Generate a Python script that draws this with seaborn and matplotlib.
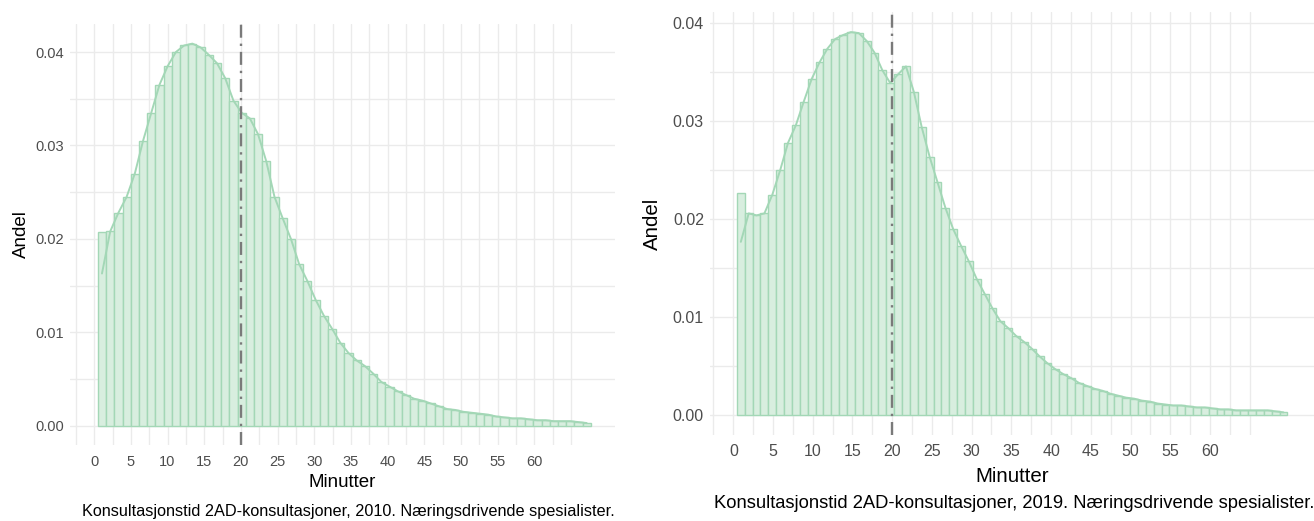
import matplotlib.pyplot as plt
import numpy as np
import pandas as pd
import seaborn as sns

# share of consultations per bin (Andel)
andel_2010 = [
    0.0207, 0.0208, 0.0228, 0.0245, 0.0270, 0.0305, 0.0335, 0.0365, 0.0385, 0.0400,
    0.0407, 0.0409, 0.0405, 0.0397, 0.0388, 0.0372, 0.0348, 0.0335, 0.0329, 0.0312,
    0.0283, 0.0245, 0.0222, 0.0200, 0.0173, 0.0155, 0.0135, 0.0118, 0.0104, 0.0089,
    0.0078, 0.0070, 0.0064, 0.0056, 0.0047, 0.0042, 0.0037, 0.0033, 0.0029, 0.0027,
    0.0024, 0.0021, 0.0018, 0.0017, 0.0015, 0.0014, 0.0013, 0.0012, 0.0010, 0.0009,
    0.0008, 0.0008, 0.0007, 0.0006, 0.0006, 0.0005, 0.0005, 0.0005, 0.0004, 0.0003,
]
andel_2019 = [
    0.0227, 0.0206, 0.0204, 0.0206, 0.0225, 0.0250, 0.0278, 0.0296, 0.0320, 0.0343,
    0.0360, 0.0374, 0.0384, 0.0388, 0.0391, 0.0390, 0.0382, 0.0370, 0.0352, 0.0339,
    0.0348, 0.0356, 0.0330, 0.0294, 0.0264, 0.0238, 0.0212, 0.0190, 0.0173, 0.0157,
    0.0139, 0.0124, 0.0109, 0.0096, 0.0089, 0.0081, 0.0075, 0.0068, 0.0060, 0.0053,
    0.0047, 0.0042, 0.0038, 0.0033, 0.0030, 0.0027, 0.0025, 0.0022, 0.0020, 0.0018,
    0.0017, 0.0015, 0.0014, 0.0012, 0.0011, 0.0010, 0.0010, 0.0009, 0.0008, 0.0008,
    0.0007, 0.0006, 0.0006, 0.0005, 0.0005, 0.0005, 0.0005, 0.0005, 0.0004, 0.0003,
]
# the density curve starts lower than the first bar
kurve_start_2010 = 0.0163
kurve_start_2019 = 0.0177

# bin layout (minutes)
bin_start_2010, bin_width_2010 = 0.5, 1.12
bin_start_2019, bin_width_2019 = 0.45, 0.99

x_ticks = list(range(0, 61, 5))
y_ticks = [0.00, 0.01, 0.02, 0.03, 0.04]
grense = 20

caption_2010 = "Konsultasjonstid 2AD-konsultasjoner, 2010. Næringsdrivende spesialister."
caption_2019 = "Konsultasjonstid 2AD-konsultasjoner, 2019. Næringsdrivende spesialister."

FILL = "#d8eedf"
EDGE = "#a3d7b6"
GRID = "#ebebeb"

sns.set_theme(style="white")
plt.rcParams["font.family"] = ["Liberation Sans", "DejaVu Sans"]


def panel(ax, andel, kurve_start, start, width, caption, xlim, ylim, fs, xpad, ypad, cap_off):
    n = len(andel)
    edges = start + width * np.arange(n + 1)
    df = pd.DataFrame({"minutt": (edges[:-1] + edges[1:]) / 2, "andel": andel})

    sns.histplot(
        data=df,
        x="minutt",
        weights="andel",
        bins=edges.tolist(),
        color=FILL,
        edgecolor=EDGE,
        linewidth=1.0,
        alpha=1.0,
        ax=ax,
    )
    df["kurve"] = [kurve_start] + list(andel[1:])
    sns.lineplot(data=df, x="minutt", y="kurve", color=EDGE, linewidth=1.4, ax=ax)
    ax.axvline(grense, color="#7a7a7a", linewidth=1.7, dashes=(5.5, 2.5, 1, 2.5))

    ax.set_xlim(*xlim)
    ax.set_ylim(*ylim)
    ax.set_xticks(x_ticks)
    ax.set_xticks(np.arange(-2.5, 66, 2.5), minor=True)
    ax.set_yticks(y_ticks)
    ax.set_yticks([0.005, 0.015, 0.025, 0.035], minor=True)
    ax.set_yticklabels([f"{v:.2f}" for v in y_ticks])
    ax.grid(True, which="both", color=GRID, linewidth=1.0)
    ax.set_axisbelow(True)
    for s in ax.spines.values():
        s.set_visible(False)
    ax.tick_params(which="both", length=0, labelsize=fs[0], labelcolor="#4d4d4d")
    ax.tick_params(axis="x", pad=7)
    ax.tick_params(axis="y", pad=4)
    ax.set_xlabel("Minutter", fontsize=fs[1], color="black", labelpad=xpad)
    ax.set_ylabel("Andel", fontsize=fs[1], color="black", labelpad=ypad)
    ax.annotate(
        caption,
        xy=(1, 0),
        xycoords="axes fraction",
        xytext=(0, cap_off),
        textcoords="offset points",
        ha="right",
        va="center",
        fontsize=fs[2],
        color="black",
    )


fig = plt.figure(figsize=(13.14, 5.21), dpi=100)
W, H = 1314, 521
ax1 = fig.add_axes([70 / W, (H - 445) / H, 545 / W, 421 / H])
ax2 = fig.add_axes([709.5 / W, (H - 434.5) / H, 604.5 / W, 422 / H])

panel(ax1, andel_2010, kurve_start_2010, bin_start_2010, bin_width_2010,
      caption_2010, (-3.3, 71.0), (-0.00205, 0.0430),
      fs=(10.5, 13.5, 11.7), xpad=3.5, ypad=4, cap_off=-48)
panel(ax2, andel_2019, kurve_start_2019, bin_start_2019, bin_width_2019,
      caption_2019, (-3.0, 73.1), (-0.00196, 0.0411),
      fs=(11.5, 14.8, 13.2), xpad=5.5, ypad=7.5, cap_off=-49.5)

fig.savefig("out.png", dpi=100)
